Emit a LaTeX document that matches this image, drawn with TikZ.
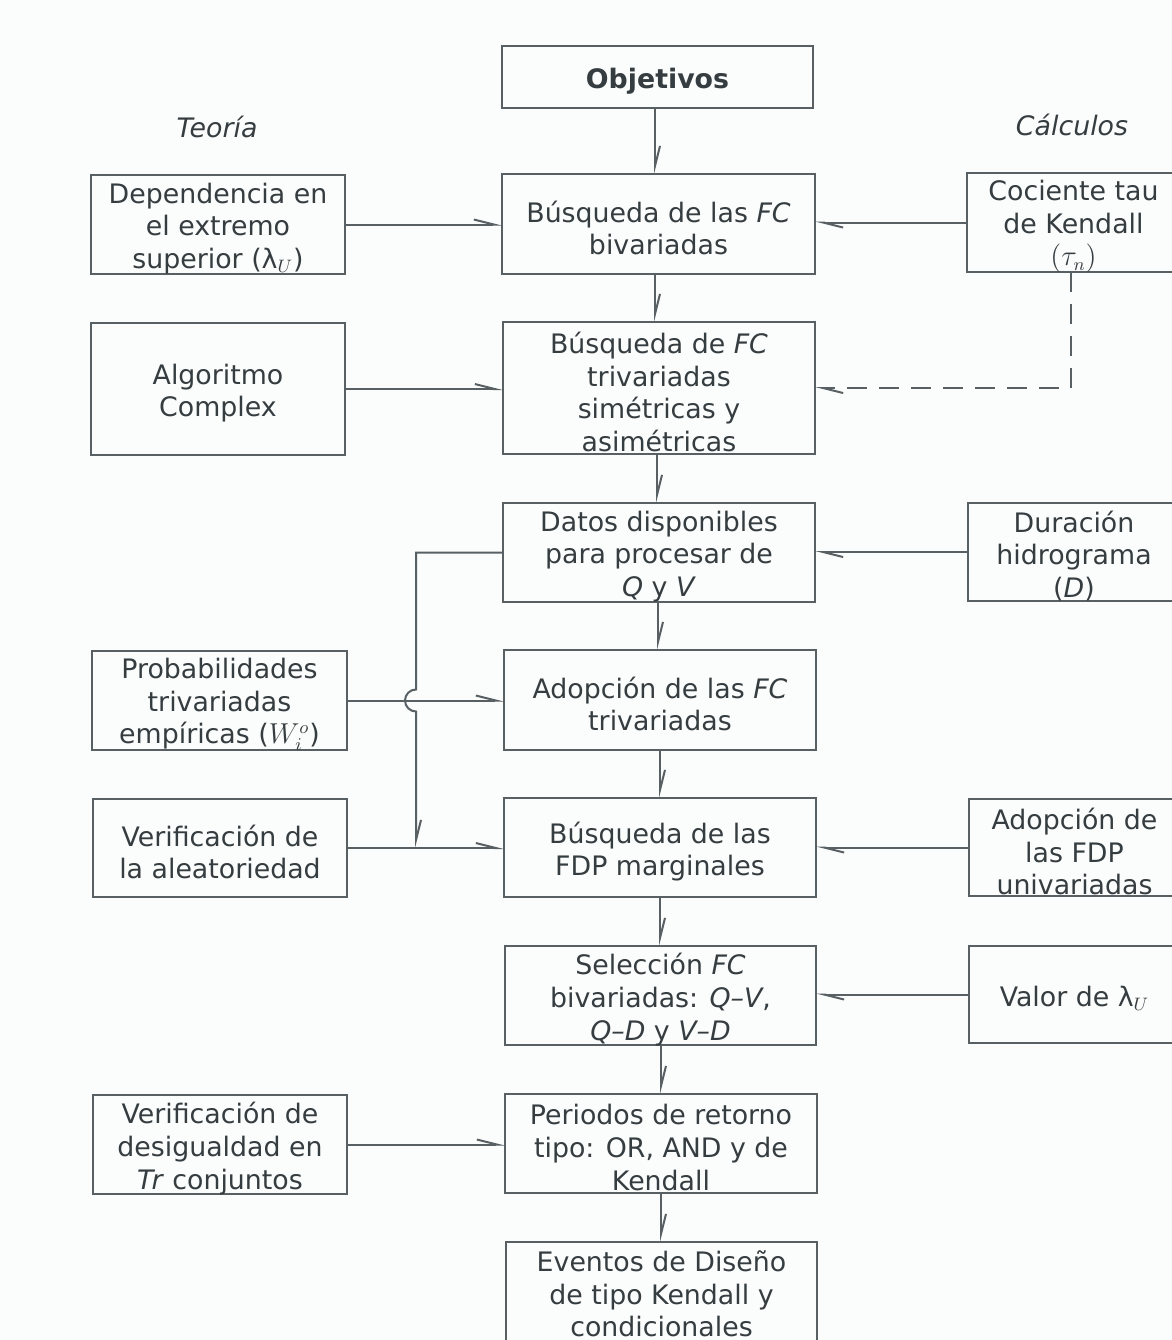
\documentclass[tikz,border=0pt]{standalone}
\usepackage{fontspec}
\setmainfont{DejaVu Sans}
\usetikzlibrary{arrows.meta,calc}
\definecolor{ink}{HTML}{363D40}
\definecolor{wire}{HTML}{586064}
\definecolor{paper}{HTML}{FBFCFC}

% box from its corners (x1,y1)-(x2,y2), with a text node on top of it
\newcommand{\flowbox}[6]{%
  \node[boxsty, minimum width={(#4-#2)*0.5pt}, minimum height={(#5-#3)*0.5pt}]
    (#1) at ({(#2+#4)/2},{(#3+#5)/2}) {};
  \node[txtsty] (#1-t) at (#1.center) {#6};
}

\begin{document}
\begin{tikzpicture}[x=0.5pt, y=-0.5pt,
  boxsty/.style={draw=wire, line width=1pt, rectangle, inner sep=0pt, outer sep=0pt},
  txtsty/.style={text=ink, align=center, inner sep=0pt, yshift=-2pt,
    font=\fontsize{13.4pt}{16.3pt}\selectfont},
  headsty/.style={text=ink, inner sep=0pt,
    font=\fontsize{13.4pt}{16.3pt}\selectfont\itshape},
  arr/.style={draw=wire, line width=1pt,
    -{Straight Barb[left, length=10pt, width=5pt]}},
]
\fill[paper] (0,0) rectangle (1172,1340);
\useasboundingbox (0,0) rectangle (1172,1340);

% column headings
\node[headsty] (hteo) at (217,127) {Teoría};
\node[headsty] (hcal) at (1072,125) {Cálculos};

% central column
\flowbox{obj}{502}{46}{813}{108}{\bfseries Objetivos}
\flowbox{biv}{502}{174}{815}{274}{Búsqueda de las \textit{FC}\\bivariadas}
\flowbox{tri}{503}{322}{815}{454}{Búsqueda de \textit{FC}\\trivariadas\\simétricas y\\asimétricas}
\flowbox{dat}{503}{503}{815}{602}{Datos disponibles\\para procesar de\\\textit{Q} y \textit{V}}
\flowbox{adf}{504}{650}{816}{750}{Adopción de las \textit{FC}\\trivariadas}
\flowbox{fdp}{504}{798}{816}{897}{Búsqueda de las\\FDP marginales}
\flowbox{sel}{505}{946}{816}{1045}{Selección \textit{FC}\\bivariadas: \textit{Q–V},\\\textit{Q–D} y \textit{V–D}}
\flowbox{per}{505}{1094}{817}{1193}{Periodos de retorno\\tipo: OR, AND y de\\Kendall}
% last box runs past the lower edge of the page
\node[boxsty, minimum width=155.5pt, minimum height=52pt] (eve) at (661.5,1294) {};
\node[txtsty, yshift=2pt] (eve-t) at (eve.center) {Eventos de Diseño\\de tipo Kendall y\\condicionales};

% theory column
\flowbox{dep}{91}{175}{345}{274}{Dependencia en\\el extremo\\superior (λ$_{U}$)}
\flowbox{alg}{91}{323}{345}{455}{Algoritmo\\Complex}
\flowbox{pro}{92}{651}{347}{750}{Probabilidades\\trivariadas\\empíricas ($W_i^o$)}
\flowbox{ale}{93}{799}{347}{897}{Verificación de\\la aleatoriedad}
\flowbox{des}{93}{1095}{347}{1194}{Verificación de\\desigualdad en\\\textit{Tr} conjuntos}

% calculation column
\flowbox{cta}{967}{173}{1180}{272}{Cociente tau\\de Kendall\\$(\tau_n)$}
\flowbox{dur}{968}{503}{1180}{601}{Duración\\hidrograma\\(\textit{D})}
\flowbox{fdu}{969}{799}{1180}{896}{Adopción de\\las FDP\\univariadas}
\flowbox{val}{969}{946}{1180}{1043}{Valor de λ$_{U}$}

% main sequence
\draw[arr] (obj.south -| 655,0) -- (655,0 |- biv.north);
\draw[arr] (655,0 |- biv.south) -- (655,0 |- tri.north);
\draw[arr] (657,0 |- tri.south) -- (657,0 |- dat.north);
\draw[arr] (658,0 |- dat.south) -- (658,0 |- adf.north);
\draw[arr] (660,0 |- adf.south) -- (660,0 |- fdp.north);
\draw[arr] (660,0 |- fdp.south) -- (660,0 |- sel.north);
\draw[arr] (661,0 |- sel.south) -- (661,0 |- per.north);
\draw[arr] (661,0 |- per.south) -- (661,0 |- eve.north);

% inputs from the theory column
\draw[arr] (dep.east) -- (dep.east -| biv.west);
\draw[arr] (alg.east) -- (alg.east -| tri.west);
\draw[arr] (pro.east) -- (pro.east -| adf.west);
\draw[arr] (ale.east) -- (ale.east -| fdp.west);
\draw[arr] (des.east) -- (des.east -| per.west);

% inputs from the calculation column
\draw[arr] (cta.west) -- (cta.west -| biv.east);
\draw[arr, dashed, dash pattern=on 10pt off 6pt] ($(cta.south)+(-3,0)$) |- (tri.east);
\draw[arr] (dur.west) -- (dur.west -| dat.east);
\draw[arr] (fdu.west) -- (fdu.west -| fdp.east);
\draw[arr] (val.west) -- (val.west -| sel.east);

% data bus on the left, hopping over the probabilities line
\coordinate (busx) at (416,0);
\draw[arr] (dat.west) -| ($(busx |- pro.east)+(0,-11)$)
  arc[start angle=270, end angle=90, radius=11]
  -- (busx |- ale.east);
\end{tikzpicture}
\end{document}
